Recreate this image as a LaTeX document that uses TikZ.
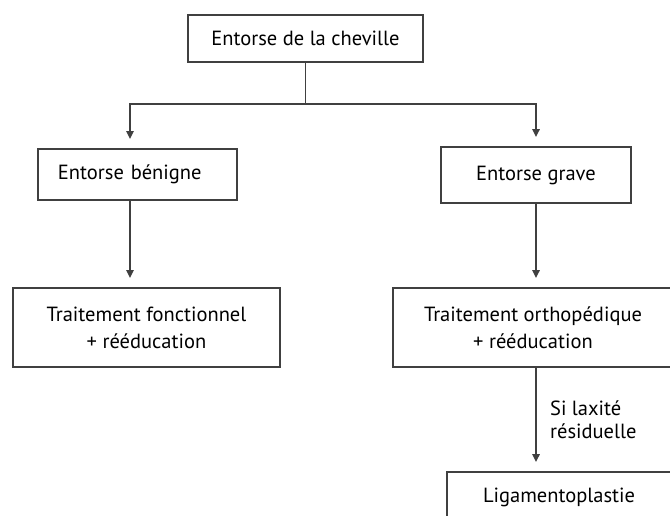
\documentclass[tikz,border=0pt]{standalone}
\usepackage{fontspec}
\setmainfont{PT Sans}
\usetikzlibrary{arrows.meta}

\begin{document}
\begin{tikzpicture}[x=0.03cm, y=-0.03cm,
	box/.style={draw=black!75, line width=1.5pt, inner sep=0pt, align=center, font=\fontsize{17.5}{23}\selectfont},
	trait/.style={draw=black!75, line width=1.5pt},
	fleche/.style={trait, -{Triangle[length=2.4mm,width=2.2mm]}, shorten >=2.7mm}]
	\useasboundingbox (0,0) rectangle (670,516);
	\clip (0,0) rectangle (670,516);
	\draw (305.5,38.5) node[box, minimum width=7.05cm, minimum height=1.41cm](ent) {Entorse de la cheville};
	\draw (137.5,174.5) node[box, minimum width=5.97cm, minimum height=1.53cm, text width=4.77cm, align=left](benigne) {Entorse bénigne};
	\draw (536,175) node[box, minimum width=5.7cm, minimum height=1.68cm](grave) {Entorse grave};
	\draw (146.5,327.5) node[box, minimum width=8.01cm, minimum height=2.37cm](fonct) {Traitement fonctionnel \\ + rééducation};
	\draw (533,327.5) node[box, minimum width=8.4cm, minimum height=2.37cm](ortho) {Traitement orthopédique \\ + rééducation};
	\draw (559,500) node[box, minimum width=6.72cm, minimum height=1.68cm, text depth=0.3cm](liga) {Ligamentoplastie};
	\coordinate (bif) at (305.5,104);
	\coordinate (bx) at ([xshift=-0.225cm]benigne.south);
	\draw[trait] (ent) -- (bif);
	\draw[fleche] (bif) -| ([xshift=-0.225cm]benigne.north);
	\draw[fleche] (bif) -| (grave.north);
	\draw[fleche] (bx) -- (bx |- fonct.north);
	\draw[fleche] (grave.south) -- (grave.south |- ortho.north);
	\draw[fleche] (ortho.south -| grave.south) -- node[right=0.28cm, align=left, font=\fontsize{17.5}{20}\selectfont] {Si laxité\\résiduelle} (liga.north -| grave.south);
\end{tikzpicture}
\end{document}
